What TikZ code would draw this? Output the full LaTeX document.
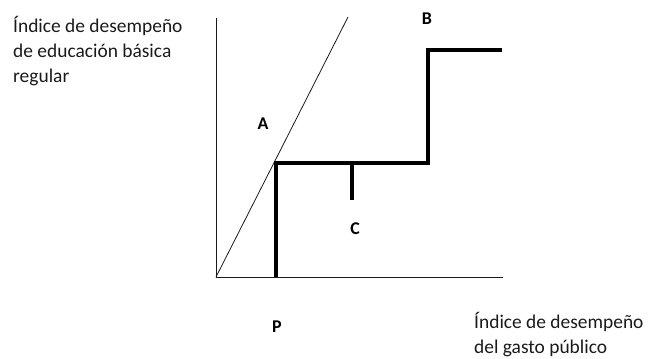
\documentclass[tikz,border=0pt]{standalone}
\usepackage{fontspec}
\setmainfont{Carlito}
\usetikzlibrary{positioning}
\definecolor{inkblack}{HTML}{000000}
\definecolor{axisgray}{HTML}{1A1A1A}

\begin{document}
\begin{tikzpicture}[x=1bp, y=-1bp,
    axisline/.style={draw=axisgray, line width=1pt},
    curveline/.style={draw=inkblack, line width=3.2pt},
    ptlabel/.style={font=\fontsize{18}{20}\selectfont\bfseries, text=inkblack, inner sep=0pt},
    axislabel/.style={font=\fontsize{19.5}{25}\selectfont, text=axisgray, align=left, inner sep=0pt}]
  \useasboundingbox (0,0) rectangle (648,358);
  % Ejes
  \coordinate (origen) at (216,277);
  \coordinate (ytope) at (216,18);
  \coordinate (xfin) at (503,277);
  \coordinate (diagtope) at (348,17);
  \draw[axisline] (ytope) -- (origen) -- (xfin);
  \draw[draw=axisgray, line width=0.8pt] (origen) -- (diagtope);
  % Frontera escalonada
  \coordinate (pbase) at (276,277);
  \coordinate (puntoA) at (276,163);
  \coordinate (escalon) at (428,163);
  \coordinate (puntoB) at (428,50);
  \coordinate (bfin) at (502,50);
  \coordinate (ctop) at (352,163);
  \coordinate (cbase) at (352,200);
  \draw[curveline, line cap=butt, line join=miter] (pbase) -- (puntoA) -- (escalon) -- (puntoB) -- (bfin);
  \draw[curveline] (ctop) -- (cbase);
  % Etiquetas
  \node[ptlabel] (labA) at (263,124) {A};
  \node[ptlabel] (labB) at (427,18.5) {B};
  \node[ptlabel] (labC) at (355,229) {C};
  \node[ptlabel] (labP) at (277,327) {P};
  \node[axislabel, anchor=base west] (ylab) at (13,82) {Índice de desempeño\\de educación básica\\regular};
  \node[axislabel, anchor=base west] (xlab) at (474,353) {Índice de desempeño\\del gasto público};
\end{tikzpicture}
\end{document}
